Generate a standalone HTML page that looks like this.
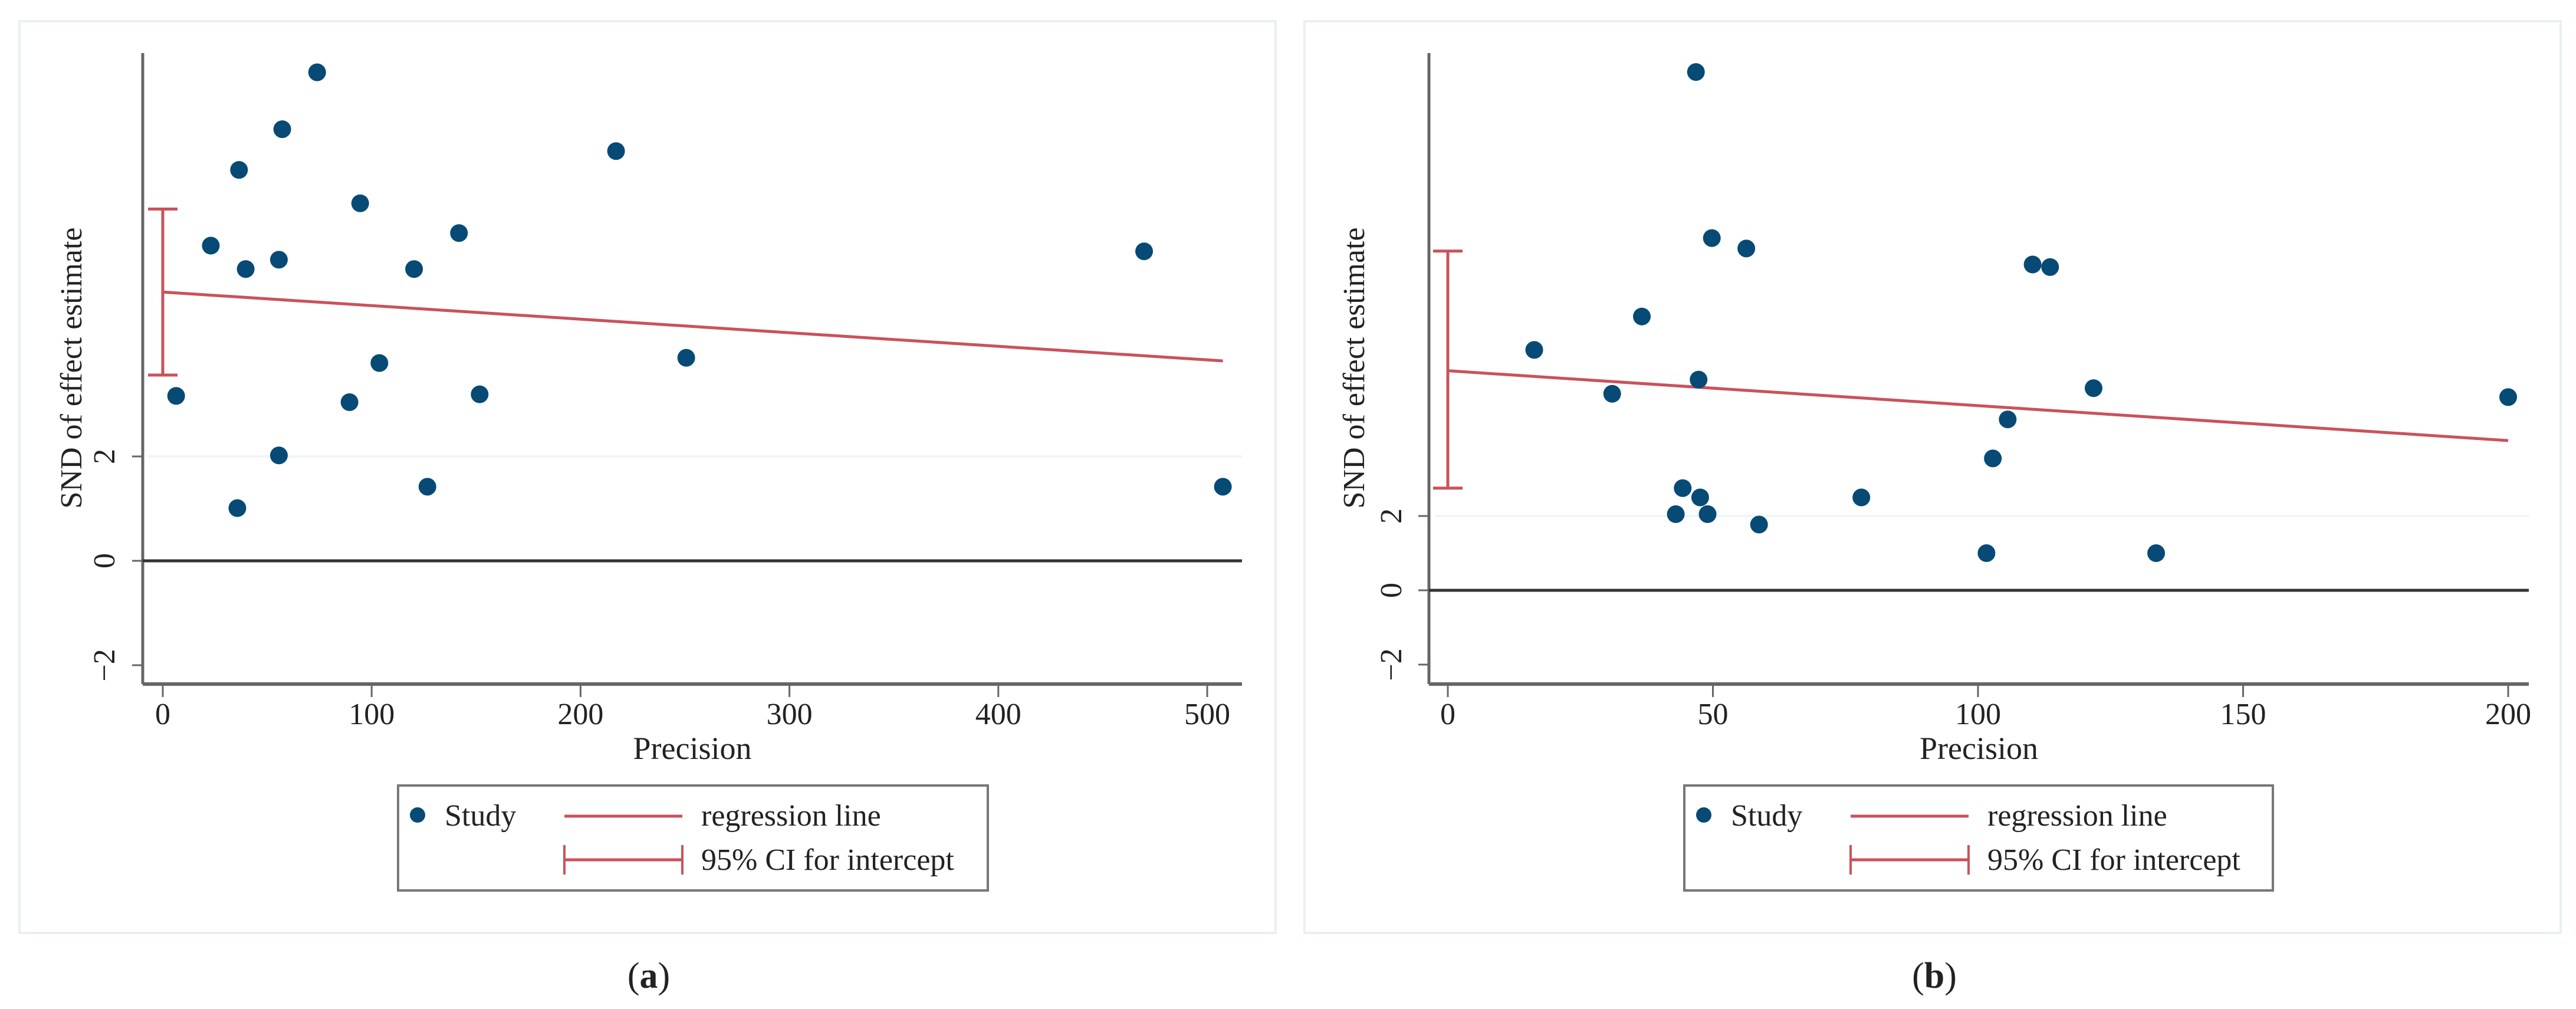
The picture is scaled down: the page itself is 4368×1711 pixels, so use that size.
<!DOCTYPE html>
<html><head><meta charset="utf-8"><style>
html,body{margin:0;padding:0;background:#fff;}
svg{display:block;}
text{font-family:"Liberation Serif",serif;fill:#222;}
</style></head><body>
<svg id="chart" width="4368" height="1711" viewBox="0 0 4368 1711" xmlns="http://www.w3.org/2000/svg"></svg>
<script>
// Panel (a) data
const aPrecision = [6.4,23,36.5,39.7,35.7,55.6,55.6,57.2,73.9,94.5,89.4,103.7,120.3,126.7,141.8,151.7,217,250.6,469.8,507.5];
const aSND = [3.16,6.04,7.49,5.59,1.01,5.77,2.02,8.27,9.36,6.85,3.04,3.79,5.59,1.42,6.28,3.19,7.85,3.89,5.93,1.42];
const aRegression = [5.15, -0.0026]; // intercept, slope
const aCI = [3.56, 6.74];
const aXTicks = [0,100,200,300,400,500];
const aYTicks = [-2,0,2];
// Panel (b) data
const bPrecision = [16.3,31,36.6,46.8,47.3,49.8,56.3,44.3,47.6,43,49,58.7,78,101.6,102.8,105.6,110.3,113.6,121.8,133.6,200];
const bSND = [6.47,5.29,7.37,13.95,5.67,9.48,9.2,2.75,2.5,2.05,2.05,1.77,2.5,1.0,3.55,4.6,8.77,8.7,5.44,1.0,5.2];
const bRegression = [5.91, -0.0094];
const bCI = [2.75, 9.13];
const bXTicks = [0,50,100,150,200];
const bYTicks = [-2,0,2];

const NS="http://www.w3.org/2000/svg";
const svg=document.getElementById('chart');
function mk(tag,attrs,parent,txt){const e=document.createElementNS(NS,tag);for(const k in attrs)e.setAttribute(k,attrs[k]);if(txt!==undefined)e.textContent=txt;(parent||svg).appendChild(e);return e;}

const panels=[
 {id:'a',fx0:33,fx1:2163,axX:242,axR:2106,x0px:276,xpu:(2047-276)/500,y0px:951,ypu:88.5,
  px:aPrecision,py:aSND,reg:aRegression,ci:aCI,xt:aXTicks,yt:aYTicks,xmax:507.5,
  ylab:176,ytitle:120,leg:675,legW:1000,cap:1100},
 {id:'b',fx0:2212,fx1:4342,axX:2423,axR:4288,x0px:2455,xpu:(4253-2455)/200,y0px:1001,ypu:63,
  px:bPrecision,py:bSND,reg:bRegression,ci:bCI,xt:bXTicks,yt:bYTicks,xmax:200,
  ylab:2358,ytitle:2295,leg:2856,legW:998,cap:3280}
];
const TOP=90, AXY=1160, RED='#c9525c', BLUE='#064a75';
panels.forEach(p=>{
  const g=mk('g',{});
  
  
  const X=v=>p.x0px+v*p.xpu, Y=v=>p.y0px-v*p.ypu;
  const fr=mk('rect',{x:p.fx0,y:36,width:p.fx1-p.fx0,height:1546,fill:'#fff',stroke:'#e8f0f2','stroke-width':4},g);
   
  // grid at 2
  const gl=mk('line',{x1:p.axX+10,x2:p.axR,y1:Y(2),y2:Y(2),stroke:'#eef5f6','stroke-width':4},g);
   
  // y axis
  const ya=mk('line',{x1:p.axX,x2:p.axX,y1:TOP,y2:AXY,stroke:'#666','stroke-width':5},g);
   
  const xa=mk('line',{x1:p.axX,x2:p.axR,y1:AXY,y2:AXY,stroke:'#666','stroke-width':6},g);
   
  const zl=mk('line',{x1:p.axX,x2:p.axR,y1:Y(0),y2:Y(0),stroke:'#333','stroke-width':5},g);
   
  p.xt.forEach(t=>{
    const tk=mk('line',{x1:X(t),x2:X(t),y1:AXY,y2:AXY+22,stroke:'#666','stroke-width':3},g);
     
    const tl=mk('text',{x:X(t),y:AXY+68,'font-size':52,'text-anchor':'middle'},g,String(t));
     
  });
  p.yt.forEach(t=>{
    const tk=mk('line',{x1:p.axX-18,x2:p.axX,y1:Y(t),y2:Y(t),stroke:'#666','stroke-width':3},g);
     
    const tl=mk('text',{x:0,y:0,'font-size':52,'text-anchor':'middle',transform:`translate(${p.ylab+18},${Y(t)}) rotate(-90)`},g,t<0?'\u2212'+(-t):String(t));
     
  });
  const yt=mk('text',{x:0,y:0,'font-size':52,'text-anchor':'middle',transform:`translate(${p.ytitle+18},624) rotate(-90)`},g,'SND of effect estimate');
   
  const xtt=mk('text',{x:(p.axX+p.axR)/2,y:1287,'font-size':54,'text-anchor':'middle'},g,'Precision');
   
  // regression line
  const rl=mk('line',{x1:X(0),y1:Y(p.reg[0]),x2:X(p.xmax),y2:Y(p.reg[0]+p.reg[1]*p.xmax),stroke:RED,'stroke-width':5},g);
   
  // CI
  const cg=mk('g',{stroke:RED,'stroke-width':5},g);
   
  mk('line',{x1:X(0),x2:X(0),y1:Y(p.ci[0]),y2:Y(p.ci[1])},cg);
  mk('line',{x1:X(0)-25,x2:X(0)+25,y1:Y(p.ci[0]),y2:Y(p.ci[0])},cg);
  mk('line',{x1:X(0)-25,x2:X(0)+25,y1:Y(p.ci[1]),y2:Y(p.ci[1])},cg);
  // points
  p.px.forEach((v,i)=>{
    const c=mk('circle',{cx:X(v),cy:Y(p.py[i]),r:15,fill:BLUE},g);
    
    
  });
  // legend
  const lg=mk('g',{},g);
   
  mk('rect',{x:p.leg,y:1332,width:p.legW,height:178,fill:'#fff',stroke:'#777','stroke-width':4},lg);
  const L=p.leg;
  const ld=mk('circle',{cx:L+33,cy:1382,r:13,fill:BLUE},lg);
   
  const ls=mk('text',{x:L+79,y:1400,'font-size':52},lg,'Study');
   
  mk('line',{x1:L+282,x2:L+482,y1:1384,y2:1384,stroke:RED,'stroke-width':5},lg);
  const lr=mk('text',{x:L+514,y:1400,'font-size':52},lg,'regression line');
   
  mk('line',{x1:L+282,x2:L+482,y1:1458,y2:1458,stroke:RED,'stroke-width':5},lg);
  mk('line',{x1:L+282,x2:L+282,y1:1433,y2:1483,stroke:RED,'stroke-width':4},lg);
  mk('line',{x1:L+482,x2:L+482,y1:1433,y2:1483,stroke:RED,'stroke-width':4},lg);
  const lc=mk('text',{x:L+514,y:1475,'font-size':52},lg,'95% CI for intercept');
   
  const cp=mk('text',{x:p.cap,y:1675,'font-size':62,'text-anchor':'middle'},svg);
   
  cp.appendChild(document.createTextNode('('));
  const b=mk('tspan',{'font-weight':'bold'},cp,p.id);
  cp.appendChild(document.createTextNode(')'));
});
</script>
</body></html>
